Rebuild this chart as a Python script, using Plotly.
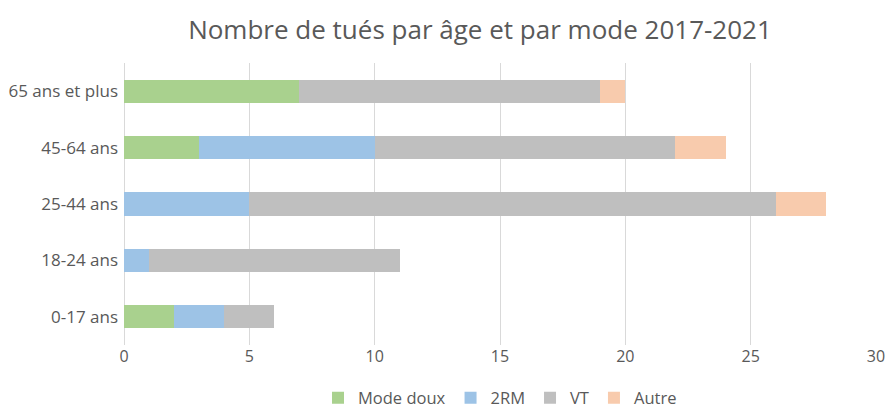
import plotly.graph_objects as go

categories = ["0-17 ans", "18-24 ans", "25-44 ans", "45-64 ans", "65 ans et plus"]
mode_doux = [2, 0, 0, 3, 7]
deux_rm = [2, 1, 5, 7, 0]
vt = [2, 10, 21, 12, 12]
autre = [0, 0, 2, 2, 1]

series = [
    ("Mode doux", mode_doux, "#A9D18E"),
    ("2RM", deux_rm, "#9DC3E6"),
    ("VT", vt, "#BFBFBF"),
    ("Autre", autre, "#F8CBAD"),
]

fig = go.Figure()
for name, vals, color in series:
    fig.add_trace(go.Bar(y=categories, x=vals, name=name, orientation="h",
                         marker=dict(color=color, line=dict(width=0))))

FONT = "Open Sans, Lato, sans-serif"
W, H = 877, 400  # page body has an 8px margin on every side
fig.update_layout(
    barmode="stack",
    bargap=0.59,
    width=W, height=H,
    margin=dict(l=116, r=9, t=55, b=H - 337, autoexpand=False),
    paper_bgcolor="white", plot_bgcolor="white",
    font=dict(family=FONT, color="#595959", size=16),
    title=dict(text="Nombre de tués par âge et par mode 2017-2021",
               xref="container", x=472 / W, xanchor="center",
               yref="container", y=1 - 22 / H, yanchor="middle",
               font=dict(size=26, color="#595959")),
    xaxis=dict(range=[0, 30], dtick=5, showgrid=True, gridcolor="#D9D9D9", gridwidth=1,
               zeroline=True, zerolinecolor="#D9D9D9", zerolinewidth=1,
               tickfont=dict(size=16, color="#595959"), ticks="", automargin=False,
               ticklabeloverflow="allow"),
    yaxis=dict(showgrid=False, tickfont=dict(size=17, color="#595959"), ticks="",
               automargin=False, ticklabelstandoff=5),
    legend=dict(orientation="h", x=0.5, xanchor="center", yref="container",
                y=0.025, yanchor="middle",
                font=dict(size=16.5, color="#595959"), traceorder="normal",
                itemwidth=30, tracegroupgap=0),
)

fig.write_html("out.html")
